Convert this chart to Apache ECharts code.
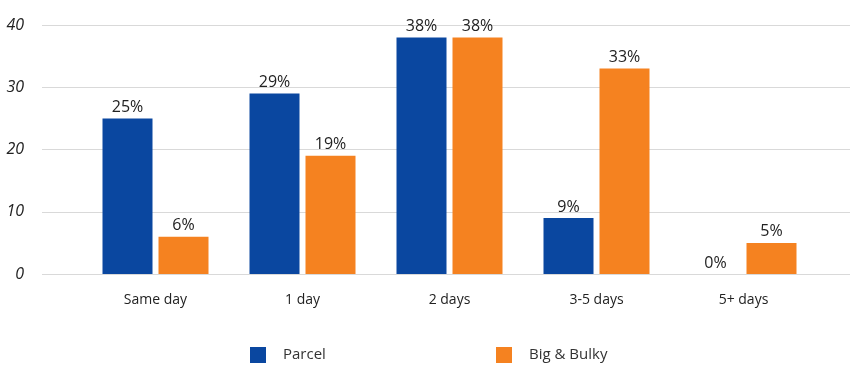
<!DOCTYPE html>
<html><head><meta charset="utf-8">
<script src="https://cdn.jsdelivr.net/npm/echarts@6/dist/echarts.min.js"></script>
<style>html,body{margin:0;padding:0;background:#fff}#c{width:858px;height:375px}</style>
</head><body><div id="c"></div>
<script>
const categories = ['Same day', '1 day', '2 days', '3-5 days', '5+ days'];
const parcel = [25, 29, 38, 9, 0];
const bigBulky = [6, 19, 38, 33, 5];
const yTicks = [0, 10, 20, 30, 40];

const chart = echarts.init(document.getElementById('c'));
const font = '"Open Sans", "Noto Sans", sans-serif';
const lbl = {show: true, position: 'top', formatter: p => p.value + '%', fontFamily: font, fontSize: 16, color: '#222', distance: 3};
chart.setOption({
  animation: false,
  grid: [
    {left: 42, right: 8, top: 25, bottom: 101},
    {left: 82, right: 41, top: 25, bottom: 101}
  ],
  legend: [
    {data: ['Parcel'], left: 245, top: 342, itemWidth: 16, itemHeight: 16, icon: 'rect',
     textStyle: {fontFamily: font, fontSize: 15, color: '#333', padding: [0, 0, 0, 12]}},
    {data: ['Big & Bulky'], left: 491, top: 342, itemWidth: 16, itemHeight: 16, icon: 'rect',
     textStyle: {fontFamily: font, fontSize: 15, color: '#333', padding: [0, 0, 0, 12]}}
  ],
  xAxis: [
    {type: 'category', gridIndex: 0, data: categories, show: false},
    {type: 'category', gridIndex: 1, data: categories,
     axisLine: {show: false}, axisTick: {show: false},
     axisLabel: {fontFamily: font, fontSize: 14, color: '#222', margin: 19}}
  ],
  yAxis: [
    {type: 'value', gridIndex: 0, min: 0, max: 40, interval: 10,
     axisLabel: {fontFamily: font, fontSize: 16, fontStyle: 'italic', color: '#222', margin: 18},
     splitLine: {lineStyle: {color: '#d9d9d9', width: 1}}},
    {type: 'value', gridIndex: 1, min: 0, max: 40, interval: 10, show: false, splitLine: {show: false}}
  ],
  series: [
    {name: 'Parcel', type: 'bar', xAxisIndex: 1, yAxisIndex: 1, data: parcel, barWidth: 50, barGap: '12%',
     itemStyle: {color: '#0A47A0'}, label: lbl},
    {name: 'Big & Bulky', type: 'bar', xAxisIndex: 1, yAxisIndex: 1, data: bigBulky, barWidth: 50, barGap: '12%',
     itemStyle: {color: '#F58220'}, label: lbl}
  ]
});
</script></body></html>
